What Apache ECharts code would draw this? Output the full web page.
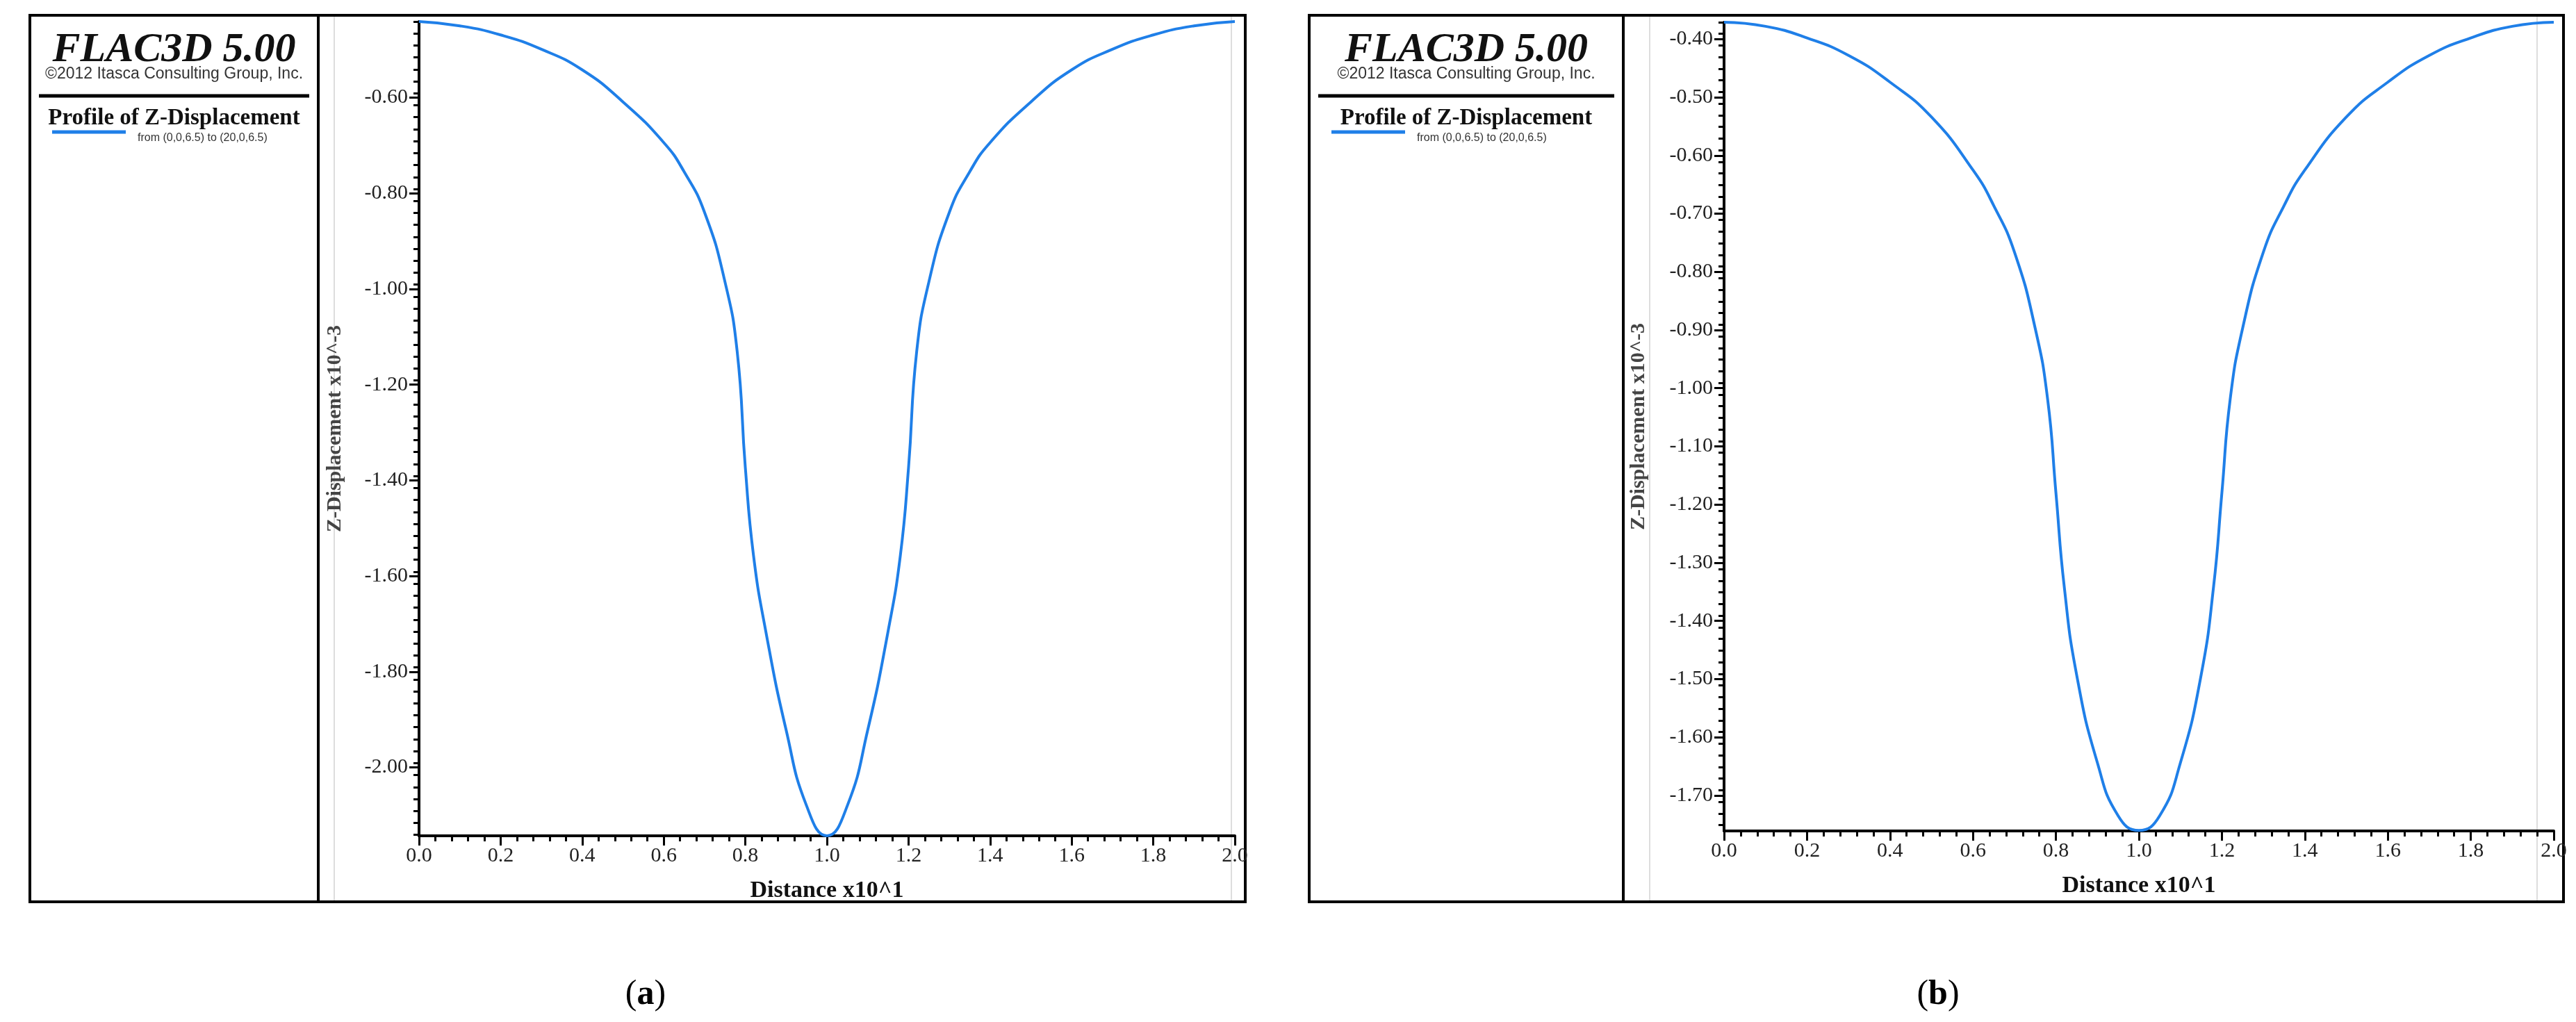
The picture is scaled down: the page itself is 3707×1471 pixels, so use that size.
<!DOCTYPE html>
<html>
<head>
<meta charset="UTF-8">
<title>FLAC3D Z-Displacement profiles</title>
<script src="https://cdn.jsdelivr.net/npm/echarts@6/dist/echarts.min.js"></script>
<style>
  html, body { margin: 0; padding: 0; background: #fff; }
  #chart { width: 3707px; height: 1471px; }
</style>
</head>
<body>
<div id="chart"></div>
<script type="text/javascript">
// distance (x10^1), left half of each profile; the right half mirrors it
var distHalf = [0, 0.1, 0.2, 0.3, 0.4, 0.5, 0.6, 0.65, 0.7, 0.75, 0.78, 0.8, 0.82, 0.85, 0.9, 0.95, 1.0];
// Z-displacement x10^-3, panel (a)
var dispA = [-0.441, -0.450, -0.469, -0.499, -0.542, -0.609, -0.694, -0.755, -0.840, -0.985, -1.131, -1.374, -1.557, -1.715, -1.922, -2.080, -2.143];
// Z-displacement x10^-3, panel (b)
var dispB = [-0.371, -0.378, -0.398, -0.428, -0.474, -0.534, -0.625, -0.686, -0.766, -0.897, -1.019, -1.180, -1.341, -1.493, -1.644, -1.735, -1.760];
// y tick labels
var yLabelsA = [-0.60, -0.80, -1.00, -1.20, -1.40, -1.60, -1.80, -2.00];
var yLabelsB = [-0.40, -0.50, -0.60, -0.70, -0.80, -0.90, -1.00, -1.10, -1.20, -1.30, -1.40, -1.50, -1.60, -1.70];

function profile(vals) {
  var pts = [];
  for (var i = 0; i < distHalf.length; i++) pts.push([distHalf[i], vals[i]]);
  for (var j = distHalf.length - 2; j >= 0; j--) pts.push([2 - distHalf[j], vals[j]]);
  return pts;
}
function minorList(lo, hi, step) {
  var out = [];
  for (var v = hi; v >= lo - 1e-9; v -= step) out.push(+v.toFixed(4));
  return out;
}

var chart = echarts.init(document.getElementById('chart'));
var BLUE = '#1f7fe8';
var TXT = 'Liberation Serif';

function xAxisFor(gi) {
  return {
    type: 'value', gridIndex: gi, min: 0, max: 2, interval: 0.2,
    axisLine: { lineStyle: { color: '#000', width: 4 } },
    axisTick: { inside: false, length: 14, lineStyle: { color: '#000', width: 3 } },
    minorTick: { show: true, splitNumber: 5, length: 8, lineStyle: { color: '#000', width: 3 } },
    splitLine: { show: false },
    axisLabel: { fontFamily: TXT, fontSize: 30, color: '#222', margin: 14,
      formatter: function (v) { return v.toFixed(1); } },
    name: 'Distance x10^1', nameLocation: 'middle', nameGap: 62,
    nameTextStyle: { fontFamily: TXT, fontWeight: 'bold', fontSize: 34, color: '#111' }
  };
}
function yAxesFor(gi, min, max, labels, minorStep) {
  return [{
    type: 'value', gridIndex: gi, min: min, max: max, position: 'left',
    axisLine: { show: true, lineStyle: { color: '#000', width: 4 } },
    axisTick: { show: true, length: 14, customValues: labels, lineStyle: { color: '#000', width: 3 } },
    splitLine: { show: false },
    axisLabel: { customValues: labels, fontFamily: TXT, fontSize: 30, color: '#222', margin: 16,
      formatter: function (v) { return v.toFixed(2); } },
    name: 'Z-Displacement x10^-3', nameLocation: 'middle', nameRotate: 90,
    nameGap: gi === 0 ? 106 : 108,
    nameTextStyle: { fontFamily: TXT, fontWeight: 'bold', fontSize: 30, color: '#444' }
  }, {
    type: 'value', gridIndex: gi, min: min, max: max, position: 'left', offset: 0,
    axisLine: { show: false },
    axisTick: { show: true, length: 8, customValues: minorList(min, max, minorStep), lineStyle: { color: '#000', width: 3 } },
    splitLine: { show: false },
    axisLabel: { show: false }
  }];
}

function legendPanel(x0, x1, divider) {
  var cx = (x0 + divider) / 2;
  return [
    { type: 'rect', shape: { x: x0, y: 22, width: x1 - x0, height: 1276 },
      style: { fill: 'none', stroke: '#000', lineWidth: 4 } },
    { type: 'line', shape: { x1: divider, y1: 22, x2: divider, y2: 1298 },
      style: { stroke: '#000', lineWidth: 4 } },
    { type: 'text', x: cx, y: 72, style: { text: 'FLAC3D 5.00', font: 'italic bold 60px "Liberation Serif"',
      fill: '#111', align: 'center', verticalAlign: 'middle' } },
    { type: 'text', x: cx, y: 107, style: { text: '\u00a92012 Itasca Consulting Group, Inc.',
      font: '23px "Liberation Sans"', fill: '#333', align: 'center', verticalAlign: 'middle' } },
    { type: 'line', shape: { x1: x0 + 13, y1: 138, x2: divider - 13, y2: 138 },
      style: { stroke: '#000', lineWidth: 5 } },
    { type: 'text', x: cx, y: 170, style: { text: 'Profile of Z-Displacement',
      font: 'bold 33px "Liberation Serif"', fill: '#111', align: 'center', verticalAlign: 'middle' } },
    { type: 'line', shape: { x1: x0 + 32, y1: 190, x2: x0 + 138, y2: 190 },
      style: { stroke: BLUE, lineWidth: 5 } },
    { type: 'text', x: x0 + 155, y: 199, style: { text: 'from (0,0,6.5) to (20,0,6.5)',
      font: '16px "Liberation Sans"', fill: '#333', align: 'left', verticalAlign: 'middle' } }
  ];
}

var graphics = []
  .concat(legendPanel(43, 1792, 458))
  .concat(legendPanel(1884, 3689, 2336))
  .concat([
    { type: 'line', shape: { x1: 481, y1: 24, x2: 481, y2: 1296 }, style: { stroke: '#ddd', lineWidth: 2 } },
    { type: 'line', shape: { x1: 1772, y1: 24, x2: 1772, y2: 1296 }, style: { stroke: '#ddd', lineWidth: 2 } },
    { type: 'line', shape: { x1: 2374, y1: 24, x2: 2374, y2: 1296 }, style: { stroke: '#ddd', lineWidth: 2 } },
    { type: 'line', shape: { x1: 3651, y1: 24, x2: 3651, y2: 1296 }, style: { stroke: '#ddd', lineWidth: 2 } },
    { type: 'text', x: 929, y: 1432, style: { rich: { p: { font: '50px "Liberation Serif"', fill: '#000' },
      b: { font: 'bold 50px "Liberation Serif"', fill: '#000' } }, text: '{p|(}{b|a}{p|)}',
      align: 'center', verticalAlign: 'middle' } },
    { type: 'text', x: 2789, y: 1432, style: { rich: { p: { font: '50px "Liberation Serif"', fill: '#000' },
      b: { font: 'bold 50px "Liberation Serif"', fill: '#000' } }, text: '{p|(}{b|b}{p|)}',
      align: 'center', verticalAlign: 'middle' } }
  ]);

var yA = yAxesFor(0, -2.143, -0.441, yLabelsA, 0.025);
var yB = yAxesFor(1, -1.761, -0.371, yLabelsB, 0.02);

chart.setOption({
  backgroundColor: '#fff',
  animation: false,
  grid: [
    { left: 603, top: 31, width: 1174, height: 1172 },
    { left: 2481, top: 32, width: 1194, height: 1164 }
  ],
  xAxis: [xAxisFor(0), xAxisFor(1)],
  yAxis: [yA[0], yA[1], yB[0], yB[1]],
  graphic: graphics,
  series: [
    { type: 'line', xAxisIndex: 0, yAxisIndex: 0, data: profile(dispA), smooth: 0.5,
      showSymbol: false, lineStyle: { color: BLUE, width: 4 }, z: 5 },
    { type: 'line', xAxisIndex: 1, yAxisIndex: 2, data: profile(dispB), smooth: 0.5,
      showSymbol: false, lineStyle: { color: BLUE, width: 4 }, z: 5 }
  ]
});
</script>
</body>
</html>
